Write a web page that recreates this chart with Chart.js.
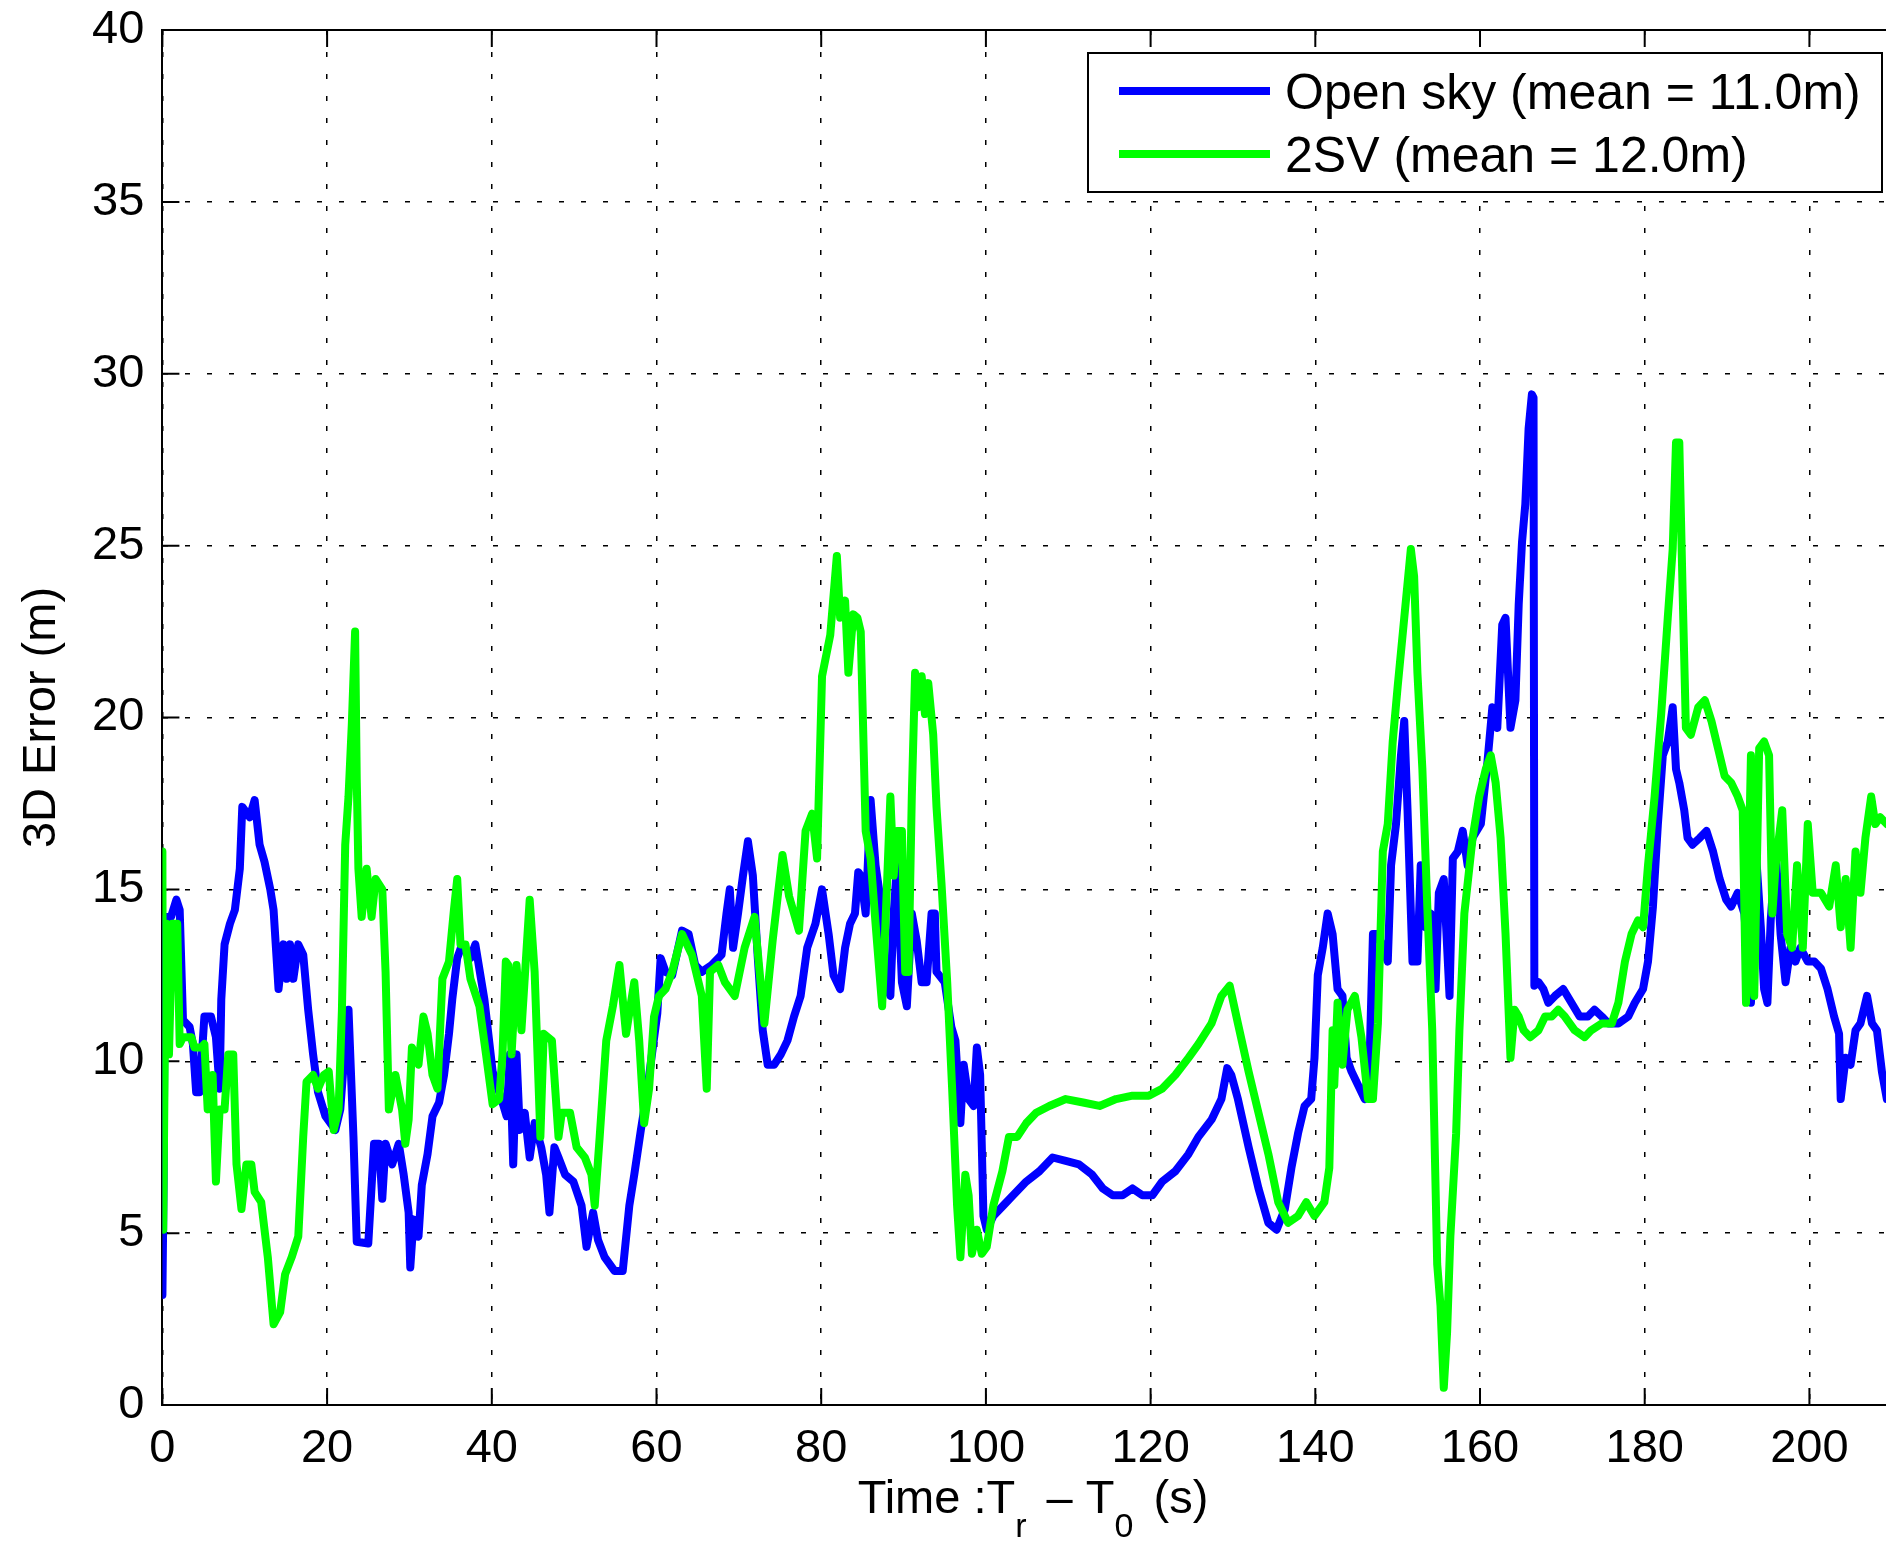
<!DOCTYPE html>
<html><head><meta charset="utf-8">
<script src="https://cdn.jsdelivr.net/npm/chart.js@4.4.1/dist/chart.umd.min.js"></script>
<style>html,body{margin:0;padding:0;background:#fff;overflow:hidden}canvas{display:block}</style>
</head><body>
<canvas id="c" width="1886" height="1543"></canvas>
<script>
const xTicks = [0, 20, 40, 60, 80, 100, 120, 140, 160, 180, 200];
const yTicks = [0, 5, 10, 15, 20, 25, 30, 35, 40];
const seriesLabels = ['Open sky (mean = 11.0m)', '2SV (mean = 12.0m)'];
const xTitleParts = ['Time :T', 'r', ' \u2013 T', '0', ' (s)'];
const yTitle = '3D Error (m)';

const openSkyT = [0,0.15,0.3,0.45,1.05,1.7,2.1,2.5,3.3,3.7,4.1,4.5,5.1,5.9,6.5,6.95,7.15,7.55,8.2,8.8,9.4,9.7,10.6,11.2,11.8,12.4,13.1,13.5,14.1,14.7,15.1,15.5,15.9,16.5,17.1,17.7,18.3,18.9,19.8,21.0,21.6,22.2,22.6,23.2,23.6,25.0,25.7,26.3,26.7,27.1,27.9,28.7,29.3,29.9,30.1,30.5,31.1,31.5,32.2,32.8,33.6,34.2,34.8,35.2,35.8,36.4,37.4,38.0,39.1,40.1,41.3,41.8,42.2,42.6,43.0,43.4,44.0,44.6,45.2,46.0,46.6,47.0,47.6,48.1,48.9,49.9,50.9,51.5,52.3,52.9,53.7,54.9,55.9,56.7,57.3,58.1,58.9,60.1,60.5,61.1,61.9,63.1,63.9,64.7,65.5,66.7,67.9,68.5,68.9,69.3,69.9,70.5,71.1,71.7,72.3,72.9,73.5,74.3,75.1,75.9,76.7,77.5,78.3,79.3,80.1,80.9,81.5,82.3,82.9,83.5,84.1,84.5,84.8,85.4,86.0,86.6,87.2,87.8,88.4,88.8,89.2,89.8,90.4,91.0,91.6,92.2,92.8,93.4,93.8,94.0,95.0,95.8,96.3,96.9,97.3,97.9,98.5,98.9,99.3,99.7,100.1,100.9,102.1,103.3,104.9,106.5,108.1,109.7,111.3,112.9,114.2,115.4,116.6,117.8,119.0,120.2,121.4,123.0,124.6,125.8,127.4,128.6,129.3,129.8,130.6,131.9,133.1,134.3,135.3,136.3,137.1,137.9,138.7,139.5,139.9,140.3,140.9,141.5,142.1,142.7,143.3,143.8,144.4,145.2,146.0,146.6,147.0,147.6,148.2,148.8,149.2,149.8,150.4,150.8,151.2,151.8,152.4,152.8,153.4,154.0,154.6,155.0,155.6,156.3,156.7,157.3,157.9,158.5,159.1,160.1,160.9,161.5,162.1,162.7,163.1,163.7,164.3,164.7,165.1,165.5,165.9,166.3,166.5,166.6,167.1,167.7,168.3,169.1,170.1,171.1,172.1,173.1,173.9,174.8,175.6,176.8,178.0,178.8,179.8,180.4,181.0,181.6,182.2,182.8,183.4,183.8,184.2,184.8,185.2,185.8,186.7,187.5,188.3,189.1,189.9,190.5,191.3,192.1,192.9,193.5,194.1,194.5,194.9,195.3,195.9,196.5,197.1,197.7,198.3,198.9,199.8,200.6,201.4,202.2,203.0,203.6,203.8,204.4,205.0,205.6,206.2,207.0,207.6,208.2,208.8,209.4];
const openSkyV = [3.2,6.5,14.0,14.2,14.2,14.7,14.4,11.2,11.0,10.5,9.1,9.1,11.3,11.3,10.7,9.2,11.8,13.4,14.0,14.4,15.6,17.4,17.1,17.6,16.3,15.8,15.0,14.4,12.1,13.4,12.4,13.4,12.4,13.4,13.1,11.5,10.2,9.1,8.4,8.0,8.6,10.5,11.5,7.8,4.75,4.7,7.6,7.6,6.0,7.6,7.0,7.6,6.7,5.6,4.0,5.4,4.9,6.4,7.3,8.4,8.8,9.6,10.8,11.8,13.0,13.4,13.0,13.4,11.8,9.7,8.8,8.4,10.2,7.0,10.2,8.0,8.5,7.2,8.2,7.5,6.7,5.6,7.5,7.2,6.7,6.5,5.8,4.6,5.6,4.8,4.3,3.9,3.9,5.8,6.7,8.0,9.2,11.4,13.0,12.6,12.5,13.8,13.7,12.8,12.6,12.8,13.1,14.3,15.0,13.3,14.3,15.4,16.4,15.4,13.0,10.9,9.9,9.9,10.2,10.6,11.3,11.9,13.3,14.0,15.0,13.7,12.5,12.1,13.3,14.0,14.3,15.5,15.4,14.3,17.6,15.7,14.7,12.3,11.9,14.3,15.7,12.3,11.6,14.3,13.5,12.3,12.3,14.3,14.3,12.6,12.3,11.0,10.6,8.2,9.9,8.9,8.7,10.4,9.6,5.5,5.1,5.5,5.8,6.1,6.5,6.8,7.2,7.1,7.0,6.7,6.3,6.1,6.1,6.3,6.1,6.1,6.5,6.8,7.3,7.8,8.3,8.9,9.8,9.6,8.9,7.5,6.3,5.3,5.1,5.7,6.9,7.9,8.7,8.9,10.1,12.5,13.3,14.3,13.7,12.1,11.9,10.1,9.7,9.3,8.9,10.1,13.7,13.7,13.3,12.9,15.7,16.9,18.9,19.9,17.3,12.9,12.9,15.7,13.9,14.3,12.1,14.9,15.3,11.9,15.9,16.1,16.7,15.7,16.5,16.9,18.7,20.3,19.7,22.7,22.9,19.7,20.5,23.3,25.1,26.2,28.4,29.4,29.3,12.2,12.3,12.1,11.7,11.9,12.1,11.7,11.3,11.3,11.5,11.3,11.1,11.1,11.3,11.7,12.1,12.9,14.5,16.9,18.9,19.3,20.3,18.5,18.1,17.3,16.5,16.3,16.5,16.7,16.1,15.3,14.7,14.5,14.9,14.3,11.7,16.1,13.9,12.1,11.7,14.1,16.1,13.7,12.3,13.3,12.9,13.3,12.9,12.9,12.7,12.1,11.3,10.8,8.9,10.1,9.9,10.9,11.1,11.9,11.1,10.9,9.7,8.9];

const twoSvT = [0,0.1,0.3,0.5,0.8,1.2,1.8,2.1,2.5,3.5,3.9,4.7,5.1,5.5,6.1,6.5,6.95,7.55,8.0,8.6,9.0,9.6,10.2,10.8,11.2,12.0,12.8,13.5,14.3,14.9,15.7,16.5,17.1,17.5,18.3,18.9,19.6,20.2,20.8,21.4,21.8,22.2,22.6,23.0,23.4,23.6,23.8,24.2,24.8,25.4,25.9,26.7,27.1,27.5,28.3,29.1,29.5,29.9,30.3,31.1,31.7,32.2,32.8,33.4,34.0,34.8,35.4,35.8,36.2,36.8,37.4,38.5,39.3,40.1,40.9,41.3,41.7,42.0,42.4,43.0,43.6,44.6,45.2,45.9,46.3,47.3,48.1,48.5,49.5,50.3,51.3,52.1,52.5,53.1,53.9,54.7,55.5,56.3,57.3,57.9,58.5,59.1,59.7,60.3,61.1,61.9,63.1,64.3,65.5,66.1,66.5,67.5,68.3,69.5,70.7,71.9,73.1,74.1,75.3,76.1,77.3,78.1,78.9,79.5,80.1,81.1,81.9,82.3,82.9,83.3,83.9,84.4,84.8,85.4,86.0,86.6,87.4,88.0,88.4,88.8,89.2,89.8,90.2,90.6,91.0,91.4,91.8,92.2,92.6,93.0,93.6,94.0,94.6,95.3,95.9,96.5,96.9,97.5,97.9,98.3,98.9,99.5,100.1,100.9,102.0,102.8,103.8,104.9,106.1,107.7,109.7,111.8,113.8,115.8,117.8,119.8,121.4,123.0,124.6,125.8,127.4,128.6,129.6,130.6,131.9,133.1,134.3,135.5,136.7,137.9,138.9,139.9,141.1,141.7,142.1,142.3,142.7,143.3,143.9,144.8,145.6,146.4,147.0,147.6,148.2,148.8,149.4,150.0,150.8,151.6,152.0,152.4,153.0,153.6,154.2,154.8,155.2,155.6,156.0,156.4,157.1,157.5,158.1,159.1,159.9,160.7,161.3,161.9,162.5,163.1,163.7,164.2,164.7,165.3,166.1,167.1,167.9,168.7,169.5,170.3,171.5,172.7,173.5,174.8,176.0,176.8,177.6,178.4,179.2,179.8,180.4,181.2,182.0,182.8,183.4,183.8,184.2,184.6,185.0,185.6,186.5,187.3,188.1,188.9,189.7,190.5,191.3,191.9,192.3,192.9,193.3,193.9,194.5,195.1,195.5,195.9,196.7,197.3,197.9,198.5,199.2,199.8,200.4,201.4,202.4,203.2,203.8,204.4,205.0,205.6,206.2,206.8,207.5,208.0,208.6,209.4];
const twoSvV = [16.1,5.1,10.5,14.0,10.2,14.0,14.0,10.5,10.7,10.7,10.4,10.4,10.5,8.6,9.6,6.5,8.6,8.6,10.2,10.2,7.0,5.7,7.0,7.0,6.2,5.9,4.3,2.35,2.7,3.8,4.3,4.9,7.8,9.4,9.6,9.2,9.6,9.7,8.0,8.6,11.5,16.3,17.7,19.8,22.5,18.2,15.6,14.2,15.6,14.2,15.3,15.0,12.6,8.6,9.6,8.6,7.6,8.3,10.4,9.9,11.3,10.8,9.6,9.2,12.4,12.9,14.4,15.3,13.4,13.4,12.4,11.6,10.2,8.75,8.9,10.2,12.9,12.8,10.2,12.8,10.9,14.7,12.6,7.8,10.8,10.6,7.8,8.5,8.5,7.5,7.2,6.7,5.8,7.8,10.6,11.6,12.8,10.8,12.3,10.6,8.2,9.2,11.3,11.9,12.1,12.6,13.7,13.1,11.9,9.2,12.6,12.8,12.3,11.9,13.3,14.2,11.1,13.5,16.0,14.8,13.8,16.7,17.2,15.9,21.2,22.4,24.7,22.9,23.4,21.3,23.0,22.9,22.5,16.7,15.9,14.0,11.6,15.2,17.7,15.4,16.7,16.7,12.6,12.6,17.7,21.3,20.3,21.2,20.1,21.0,19.5,17.4,15.2,12.3,9.2,5.8,4.3,6.7,6.1,4.4,5.1,4.4,4.6,5.8,6.8,7.8,7.8,8.2,8.5,8.7,8.9,8.8,8.7,8.9,9.0,9.0,9.2,9.6,10.1,10.5,11.1,11.9,12.2,11.1,9.7,8.5,7.3,5.9,5.3,5.5,5.9,5.5,5.9,6.9,10.9,9.3,11.7,9.9,11.5,11.9,10.7,8.9,8.9,11.1,16.1,16.9,19.3,20.9,22.9,24.9,24.1,21.3,18.5,14.5,10.9,4.1,2.9,0.5,2.1,4.9,7.9,10.9,14.3,16.5,17.7,18.5,18.9,18.1,16.5,13.7,10.1,11.5,11.3,10.9,10.7,10.9,11.3,11.3,11.5,11.3,10.9,10.7,10.9,11.1,11.1,11.7,12.9,13.7,14.1,13.9,15.7,17.7,20.1,22.9,24.9,28.0,28.0,23.7,19.7,19.5,20.3,20.5,19.9,19.1,18.3,18.1,17.7,17.3,11.7,18.9,11.9,19.1,19.3,18.9,14.3,15.7,17.3,13.7,13.3,15.7,13.3,16.9,14.9,14.9,14.5,15.7,13.9,15.3,13.3,16.1,14.9,16.5,17.7,16.9,17.1,16.9];

const FONT = "'Liberation Sans', Arial, Helvetica, sans-serif";
const FS = 47;
const LEG_FS = 50;

function pts(ts, vs) { return ts.map((t, i) => ({ x: t, y: vs[i] })); }

const framePlugin = {
  id: 'frame',
  beforeDatasetsDraw(chart) {
    const { ctx, chartArea: a, scales: { x, y } } = chart;
    ctx.save();
    ctx.strokeStyle = '#000';
    ctx.lineWidth = 2;
    ctx.setLineDash([]);
    ctx.beginPath();
    ctx.moveTo(a.left, a.top); ctx.lineTo(a.right + 2, a.top);
    x.ticks.forEach(t => {
      const px = x.getPixelForValue(t.value);
      ctx.moveTo(px, a.bottom); ctx.lineTo(px, a.bottom - 17);
      ctx.moveTo(px, a.top); ctx.lineTo(px, a.top + 17);
    });
    y.ticks.forEach(t => {
      const py = y.getPixelForValue(t.value);
      ctx.moveTo(a.left, py); ctx.lineTo(a.left + 17, py);
    });
    ctx.stroke();
    ctx.restore();
  },
  afterDraw(chart) {
    const { ctx } = chart;
    ctx.save();
    // x-axis title with subscripts
    const big = FS + 'px ' + FONT, small = '34px ' + FONT;
    const fonts = [big, small, big, small, big];
    const widths = xTitleParts.map((p, i) => { ctx.font = fonts[i]; return ctx.measureText(p).width; });
    const total = widths.reduce((s, w) => s + w, 0) + 14;
    let cx = 1033 - total / 2;
    const base = 1513;
    ctx.fillStyle = '#000';
    ctx.textBaseline = 'alphabetic';
    ctx.textAlign = 'left';
    xTitleParts.forEach((p, i) => {
      ctx.font = fonts[i];
      ctx.fillText(p, cx, i % 2 === 1 ? base + 24 : base);
      cx += widths[i] + (i % 2 === 1 ? 7 : 0);
    });
    // legend
    const bx = 1088, by = 53, bw = 794, bh = 139;
    ctx.fillStyle = '#fff';
    ctx.fillRect(bx, by, bw, bh);
    ctx.strokeStyle = '#000';
    ctx.lineWidth = 2;
    ctx.strokeRect(bx, by, bw, bh);
    chart.data.datasets.forEach((ds, i) => {
      const ly = 91 + i * 63;
      ctx.strokeStyle = ds.borderColor;
      ctx.lineWidth = 8;
      ctx.lineCap = 'butt';
      ctx.beginPath(); ctx.moveTo(1119, ly); ctx.lineTo(1270, ly); ctx.stroke();
      ctx.fillStyle = '#000';
      ctx.font = LEG_FS + 'px ' + FONT;
      ctx.textBaseline = 'alphabetic';
      ctx.fillText(ds.label, 1285, ly + 18);
    });
    ctx.restore();
  }
};

new Chart(document.getElementById('c'), {
  type: 'line',
  data: {
    datasets: [
      { label: seriesLabels[0], data: pts(openSkyT, openSkyV), borderColor: '#0000ff', borderWidth: 8, pointRadius: 0, tension: 0, borderJoinStyle: 'round', borderCapStyle: 'round', order: 2, fill: false },
      { label: seriesLabels[1], data: pts(twoSvT, twoSvV), borderColor: '#00ff00', borderWidth: 8, pointRadius: 0, tension: 0, borderJoinStyle: 'round', borderCapStyle: 'round', order: 1, fill: false }
    ]
  },
  options: {
    responsive: false,
    animation: false,
    devicePixelRatio: 1,
    events: [],
    layout: { autoPadding: false, padding: { top: 30, right: 0, bottom: 0, left: 0 } },
    plugins: { legend: { display: false }, tooltip: { enabled: false }, title: { display: false } },
    scales: {
      x: {
        type: 'linear', min: 0, max: 209.3,
        afterBuildTicks: s => { s.ticks = xTicks.map(v => ({ value: v })); },
        afterFit: s => { s.height = 138; s.paddingLeft = 0; s.paddingRight = 0; },
        ticks: { color: '#000', font: { family: FONT, size: FS }, padding: 16, maxRotation: 0, autoSkip: false },
        grid: { color: '#000', lineWidth: 1.5, drawTicks: false },
        border: { display: true, color: '#000', width: 2, dash: [5, 17] }
      },
      y: {
        type: 'linear', min: 0, max: 40,
        afterBuildTicks: s => { s.ticks = yTicks.map(v => ({ value: v })); },
        afterFit: s => { s.width = 162.4; s.paddingTop = 0; s.paddingBottom = 0; },
        ticks: { color: '#000', font: { family: FONT, size: FS }, padding: 18, autoSkip: false },
        grid: { color: '#000', lineWidth: 1.5, drawTicks: false },
        border: { display: true, color: '#000', width: 2, dash: [5, 17] },
        title: { display: true, text: yTitle, color: '#000', font: { family: FONT, size: FS, lineHeight: 1.2 }, padding: { top: 14, bottom: 0 } }
      }
    }
  },
  plugins: [framePlugin]
});
</script>
</body></html>
